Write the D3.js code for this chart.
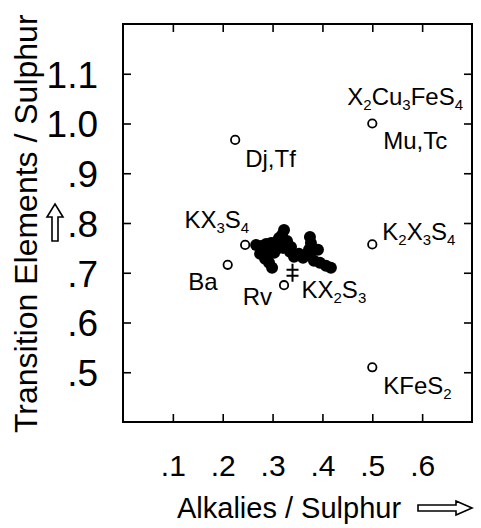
<!doctype html>
<html>
  <head>
    <meta charset="utf-8">
    <title>Transition elements vs alkalies</title>
    <style>
      body { margin: 0; background: #fff; }
      text { font-family: "Liberation Sans", Arial, Helvetica, sans-serif; fill: #000; }
    </style>
    <script src="https://cdnjs.cloudflare.com/ajax/libs/d3/7.8.5/d3.min.js"></script>
  </head>
  <body>
    <div id="chart"></div>
    <script>
      // measured points (filled dots)
      const clusterX = [0.267, 0.277, 0.287, 0.297, 0.307, 0.313, 0.319, 0.323, 0.329, 0.337,
                        0.335, 0.343, 0.275, 0.285, 0.293, 0.299, 0.303, 0.309, 0.375, 0.377,
                        0.373, 0.375, 0.383, 0.395, 0.407, 0.417, 0.361, 0.353, 0.291, 0.321,
                        0.279, 0.391];
      const clusterY = [0.756, 0.754, 0.758, 0.760, 0.762, 0.770, 0.776, 0.786, 0.764, 0.752,
                        0.742, 0.732, 0.738, 0.728, 0.720, 0.710, 0.740, 0.748, 0.772, 0.760,
                        0.746, 0.734, 0.724, 0.720, 0.714, 0.710, 0.730, 0.738, 0.748, 0.750,
                        0.746, 0.746];

      // reference minerals (open circles)
      const refNames = ["Dj,Tf", "Mu,Tc", "K_2X_3S_4", "KFeS_2", "KX_3S_4", "Ba", "Rv"];
      const refX = [0.225, 0.5, 0.5, 0.5, 0.245, 0.21, 0.323];
      const refY = [0.967, 1.0, 0.757, 0.51, 0.756, 0.716, 0.675];

      // KX2S3 marker
      const markName = "KX_2S_3";
      const markX = 0.34, markY = 0.70;
      const extraName = "X_2Cu_3FeS_4"; // written above Mu,Tc

      const xTicks = [0.1, 0.2, 0.3, 0.4, 0.5, 0.6];
      const yTicks = [0.5, 0.6, 0.7, 0.8, 0.9, 1.0, 1.1];
      const xLabels = [".1", ".2", ".3", ".4", ".5", ".6"];
      const yLabels = [".5", ".6", ".7", ".8", ".9", "1.0", "1.1"];

      const W = 481, H = 528;
      const x = d3.scaleLinear().domain([0, 0.7]).range([123, 472]);
      const y = d3.scaleLinear().domain([0.4, 1.2]).range([422, 24]);

      const svg = d3.select("#chart").append("svg")
        .attr("width", W).attr("height", H);

      // axes: inward ticks, labels only left and bottom
      const fmtX = d => xLabels[xTicks.indexOf(d)];
      const fmtY = d => yLabels[yTicks.findIndex(v => Math.abs(v - d) < 1e-9)];

      const gB = svg.append("g").attr("transform", `translate(0,${y.range()[0]})`)
        .call(d3.axisBottom(x).tickValues(xTicks).tickFormat(fmtX)
          .tickSizeInner(-8).tickSizeOuter(0).tickPadding(33));
      const gT = svg.append("g").attr("transform", `translate(0,${y.range()[1]})`)
        .call(d3.axisTop(x).tickValues(xTicks).tickFormat("")
          .tickSizeInner(-8).tickSizeOuter(0));
      const gL = svg.append("g").attr("transform", `translate(${x.range()[0]},0)`)
        .call(d3.axisLeft(y).tickValues(yTicks).tickFormat(fmtY)
          .tickSizeInner(-8).tickSizeOuter(0).tickPadding(25));
      const gR = svg.append("g").attr("transform", `translate(${x.range()[1]},0)`)
        .call(d3.axisRight(y).tickValues(yTicks).tickFormat("")
          .tickSizeInner(-8).tickSizeOuter(0));

      [gB, gT, gL, gR].forEach(g => {
        g.select(".domain").remove();
        g.selectAll(".tick line").attr("stroke", "#000").attr("stroke-width", 1.6);
        g.selectAll(".tick text").filter(function() { return !this.textContent; }).remove();
      });
      gB.selectAll(".tick text").attr("font-size", 30).attr("font-family", null);
      gL.selectAll(".tick text").attr("font-size", 37).attr("font-family", null)
        .attr("dy", "0.36em");

      // frame
      svg.append("rect")
        .attr("x", x.range()[0]).attr("y", y.range()[1])
        .attr("width", x.range()[1] - x.range()[0])
        .attr("height", y.range()[0] - y.range()[1])
        .attr("fill", "none").attr("stroke", "#000").attr("stroke-width", 2);

      // axis titles
      svg.append("text")
        .attr("transform", `translate(37,433) rotate(-90)`)
        .attr("font-size", 32)
        .text("Transition Elements / Sulphur");
      svg.append("text")
        .attr("x", 177).attr("y", 518)
        .attr("font-size", 29)
        .text("Alkalies / Sulphur");

      // outlined arrows
      const yArrow = y(0.8);
      svg.append("path")
        .attr("d", `M55,${yArrow - 19} L63,${yArrow - 6} L58,${yArrow - 6} L58,${yArrow + 18}
                    L52,${yArrow + 18} L52,${yArrow - 6} L47,${yArrow - 6} Z`)
        .attr("fill", "#fff").attr("stroke", "#000").attr("stroke-width", 1.6);
      svg.append("path")
        .attr("d", "M418,505 L456,505 L456,501 L472,508 L456,515 L456,511 L418,511 Z")
        .attr("fill", "#fff").attr("stroke", "#000").attr("stroke-width", 1.6);

      // filled dots
      svg.append("g").selectAll("circle")
        .data(clusterX.map((v, i) => [v, clusterY[i]]))
        .join("circle")
        .attr("cx", d => x(d[0])).attr("cy", d => y(d[1]))
        .attr("r", 6).attr("fill", "#000");

      // open circles
      svg.append("g").selectAll("circle")
        .data(refNames.map((n, i) => ({name: n, x: refX[i], y: refY[i]})))
        .join("circle")
        .attr("cx", d => x(d.x)).attr("cy", d => y(d.y))
        .attr("r", 4.2).attr("fill", "#fff")
        .attr("stroke", "#000").attr("stroke-width", 1.8);

      // double-cross marker
      const mx = x(markX), my = y(markY);
      svg.append("path")
        .attr("d", `M${mx},${my - 9} V${my + 9} M${mx - 6},${my - 3} H${mx + 6} M${mx - 6},${my + 3} H${mx + 6}`)
        .attr("stroke", "#000").attr("stroke-width", 2).attr("fill", "none");

      // labels with subscripts
      function label(str, px, py, anchor) {
        const t = svg.append("text").attr("x", px).attr("y", py)
          .attr("font-size", 24).attr("text-anchor", anchor || "start");
        const parts = str.split(/(_\d)/).filter(s => s.length);
        let shift = 0;
        parts.forEach(p => {
          if (p[0] === "_") {
            t.append("tspan").attr("font-size", 15).attr("dy", 5 - shift).text(p[1]);
            shift = 5;
          } else {
            t.append("tspan").attr("font-size", 24).attr("dy", -shift).text(p);
            shift = 0;
          }
        });
      }
      const offsets = {
        "Dj,Tf": [10, 27, "start"], "Mu,Tc": [11, 25, "start"],
        "K_2X_3S_4": [10, -4, "start"], "KFeS_2": [11, 27, "start"],
        "KX_3S_4": [4, -17, "end"], "Ba": [-10, 25, "end"], "Rv": [-12, 20, "end"]
      };
      refNames.forEach((n, i) => {
        const o = offsets[n];
        label(n, x(refX[i]) + o[0], y(refY[i]) + o[1], o[2]);
      });
      label(extraName, x(refX[1]) - 25, y(refY[1]) - 19);
      label(markName, mx + 9, my + 25);
    </script>
  </body>
</html>
